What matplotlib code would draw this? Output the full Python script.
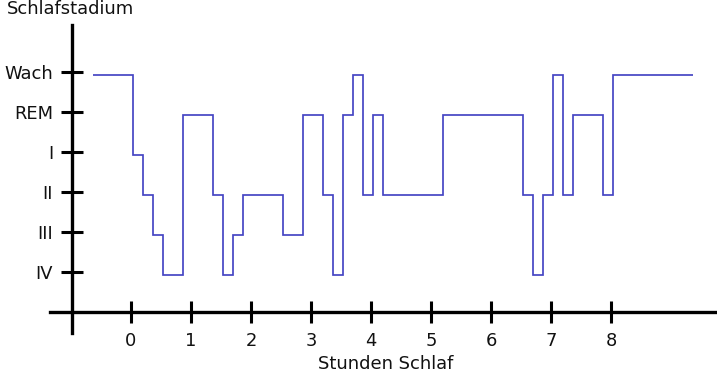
import matplotlib
matplotlib.use("Agg")
import matplotlib.pyplot as plt
from matplotlib.transforms import ScaledTranslation
import numpy as np

# ---- data ----
stage_names = ["IV", "III", "II", "I", "REM", "Wach"]   # level 0..5
hour_ticks = [0, 1, 2, 3, 4, 5, 6, 7, 8]
# onset of each segment in minutes after sleep onset, and the stage of that segment
onset_min = [-40, 0, 10, 20, 30, 50, 80, 90, 100, 110, 150, 170, 190, 200, 210,
             220, 230, 240, 250, 310, 390, 400, 410, 420, 430, 440, 470, 480]
stage_seq = ["Wach", "I", "II", "III", "IV", "REM", "II", "IV", "III", "II", "III",
             "REM", "II", "IV", "REM", "Wach", "II", "REM", "II", "REM", "II", "IV",
             "II", "Wach", "II", "REM", "II", "Wach"]
end_min = 560

W, H, DPI = 717, 373, 100
fig = plt.figure(figsize=(W / DPI, H / DPI), dpi=DPI)
ax = fig.add_axes([0, 0, 1, 1])

# pixel <-> data mapping
x0_px, px_per_h = 131.0, 60.0
y0_px, px_per_stage = 272.3, 40.0
ax.set_xlim(-x0_px / px_per_h, (W - x0_px) / px_per_h)
ax.set_ylim((y0_px - H) / px_per_stage, y0_px / px_per_stage)

levels = [stage_names.index(s) for s in stage_seq]
edges = np.array(onset_min + [end_min]) / 60.0
shift = ax.transData + ScaledTranslation(2.3 / DPI, -3.0 / DPI, fig.dpi_scale_trans)
ax.stairs(levels, edges, baseline=None, color="#4646C4", linewidth=1.25,
          transform=shift)

# axes lines
for s in ["top", "right"]:
    ax.spines[s].set_visible(False)
lw = 2.4
ax.spines["left"].set_position(("data", (71.7 - x0_px) / px_per_h))
ax.spines["left"].set_bounds((y0_px - 333) / px_per_stage, (y0_px - 25) / px_per_stage)
ax.spines["bottom"].set_position(("data", (y0_px - 312.3) / px_per_stage))
ax.spines["bottom"].set_bounds((50 - x0_px) / px_per_h, (W - x0_px) / px_per_h)
for s in ["left", "bottom"]:
    ax.spines[s].set_linewidth(lw)
    ax.spines[s].set_color("black")

ax.set_xticks(hour_ticks)
ax.set_xticklabels([str(h) for h in hour_ticks])
ax.set_yticks(range(len(stage_names)))
ax.set_yticklabels(stage_names)
fs = 12.9
ax.tick_params(axis="both", direction="inout", length=16, width=2.2, color="black",
               labelsize=fs, labelcolor="#111111")
ax.tick_params(axis="x", pad=6.3)
ax.tick_params(axis="y", pad=5.3)
ax.patch.set_visible(False)

fig.text(70 / W, 1 - 9 / H, "Schlafstadium", ha="center", va="center",
         fontsize=fs, color="#111111")
fig.text(386 / W, 1 - 364 / H, "Stunden Schlaf", ha="center", va="center",
         fontsize=fs, color="#111111")

fig.savefig("out.png", dpi=DPI)
